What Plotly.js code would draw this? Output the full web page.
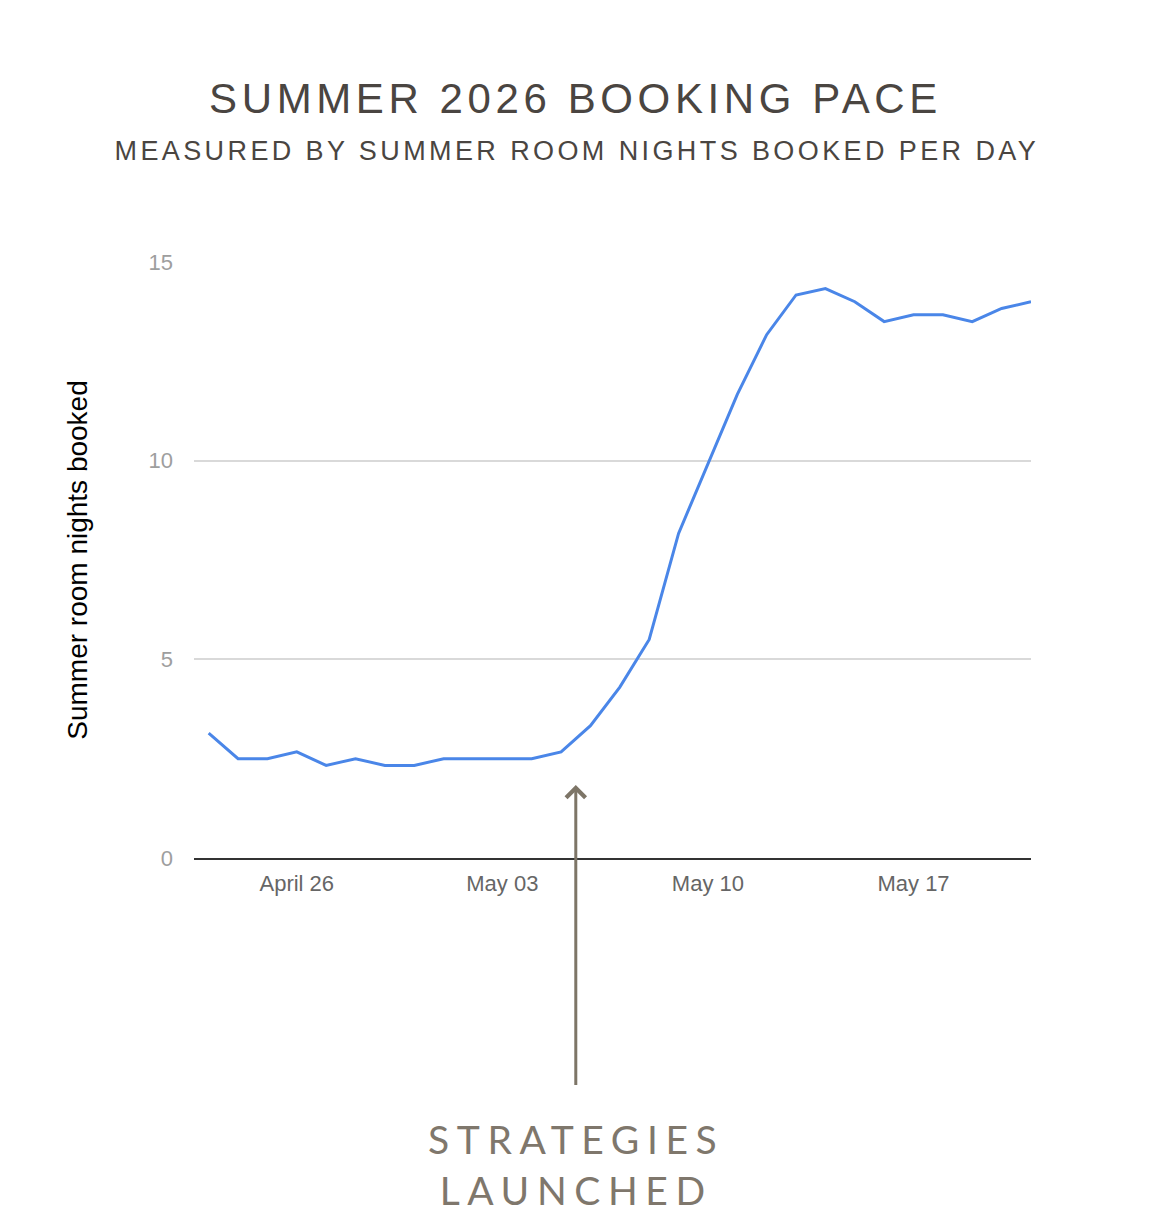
<!DOCTYPE html>
<html>
<head>
<meta charset="utf-8">
<script src="https://cdn.plot.ly/plotly-3.0.1.min.js"></script>
<style>
  html, body { margin: 0; padding: 0; background: #ffffff; }
  #chart { width: 1151px; height: 1214px; }
</style>
</head>
<body>
<div id="chart"></div>
<script>
// ---- data ----
const dates = [
  '2026-04-23','2026-04-24','2026-04-25','2026-04-26','2026-04-27','2026-04-28','2026-04-29',
  '2026-04-30','2026-05-01','2026-05-02','2026-05-03','2026-05-04','2026-05-05','2026-05-06',
  '2026-05-07','2026-05-08','2026-05-09','2026-05-10','2026-05-11','2026-05-12','2026-05-13',
  '2026-05-14','2026-05-15','2026-05-16','2026-05-17','2026-05-18','2026-05-19','2026-05-20',
  '2026-05-21'
];
const roomNights = [
  3.14, 2.5, 2.5, 2.67, 2.33, 2.5, 2.33,
  2.33, 2.5, 2.5, 2.5, 2.5, 2.67, 3.33,
  4.3, 5.5, 8.17, 9.9, 11.67, 13.17, 14.17,
  14.33, 14.0, 13.5, 13.67, 13.67, 13.5, 13.83,
  14.0
];
const xTickDates = ['2026-04-26','2026-05-03','2026-05-10','2026-05-17'];
const xTickLabels = ['April 26','May 03','May 10','May 17'];
const yTickVals = [0, 5, 10, 15];
const yTickLabels = ['0', '5', '10', '15'];
const launchDate = '2026-05-05 12:00';
const launchArrowTip = 1.84;

const titleText = 'SUMMER 2026 BOOKING PACE';
const subtitleText = 'MEASURED BY SUMMER ROOM NIGHTS BOOKED PER DAY';
const launchText = 'STRATEGIES<br>LAUNCHED';
const yTitleText = 'Summer room nights booked';

const SANS = '"Liberation Sans", Arial, Helvetica, sans-serif';

const trace = {
  type: 'scatter',
  mode: 'lines',
  x: dates,
  y: roomNights,
  line: { color: '#4a86e8', width: 3 },
  hoverinfo: 'x+y',
  showlegend: false
};

const layout = {
  width: 1151,
  height: 1214,
  margin: { l: 194, r: 120, t: 262, b: 356 },
  paper_bgcolor: '#ffffff',
  plot_bgcolor: '#ffffff',
  showlegend: false,
  title: {
    text: titleText,
    font: { family: SANS, size: 42, color: '#4a4541' },
    x: 0.5, xref: 'container', xanchor: 'center',
    y: 1 - 98 / 1214, yref: 'container', yanchor: 'middle'
  },
  xaxis: {
    type: 'date',
    range: ['2026-04-22 12:00', '2026-05-21 00:00'],
    tickvals: xTickDates,
    ticktext: xTickLabels,
    tickfont: { family: SANS, size: 22, color: '#666666' },
    ticks: '',
    ticklabelstandoff: 5,
    showgrid: false,
    zeroline: false,
    showline: true,
    linecolor: '#333333',
    linewidth: 2,
    fixedrange: true
  },
  yaxis: {
    range: [0, 15],
    tickvals: yTickVals,
    ticktext: yTickLabels,
    tickfont: { family: SANS, size: 22, color: '#9e9e9e' },
    ticks: '',
    ticklabelstandoff: 20,
    showgrid: true,
    gridcolor: '#d9d9d9',
    gridwidth: 2,
    zeroline: false,
    showline: false,
    fixedrange: true,
    title: {
      text: yTitleText,
      font: { family: SANS, size: 28, color: '#000000' },
      standoff: 52
    }
  },
  annotations: [
    {
      text: subtitleText,
      xref: 'paper', yref: 'paper',
      x: (577 - 194) / 837, y: (858 - 151) / 596,
      xanchor: 'center', yanchor: 'middle',
      showarrow: false,
      font: { family: SANS, size: 27, color: '#4a4541' }
    },
    {
      text: ' ',
      xref: 'x', yref: 'y',
      x: launchDate, y: launchArrowTip,
      axref: 'pixel', ayref: 'pixel',
      ax: 0, ay: 310,
      showarrow: true,
      arrowhead: 4,
      arrowsize: 1.25,
      arrowwidth: 3,
      arrowcolor: '#7d7567',
      standoff: 0,
      startstandoff: 0
    },
    {
      text: launchText,
      xref: 'x', yref: 'paper',
      x: launchDate, y: (858 - 1164) / 596,
      xanchor: 'center', yanchor: 'middle',
      showarrow: false,
      align: 'center',
      font: { family: 'Lato, "Open Sans", sans-serif', size: 39, color: '#7f776c' }
    }
  ]
};

Plotly.newPlot('chart', [trace], layout, { displayModeBar: false, staticPlot: true }).then(function (gd) {
  gd.querySelectorAll('.gtitle').forEach(function (el) { el.style.letterSpacing = '4.6px'; });
  gd.querySelectorAll('.annotation-text').forEach(function (el) {
    const t = el.textContent;
    if (t.indexOf('MEASURED') === 0) el.style.letterSpacing = '3.4px';
    else if (t.indexOf('STRATEGIES') === 0) el.style.letterSpacing = '7.6px';
  });
});
</script>
</body>
</html>
